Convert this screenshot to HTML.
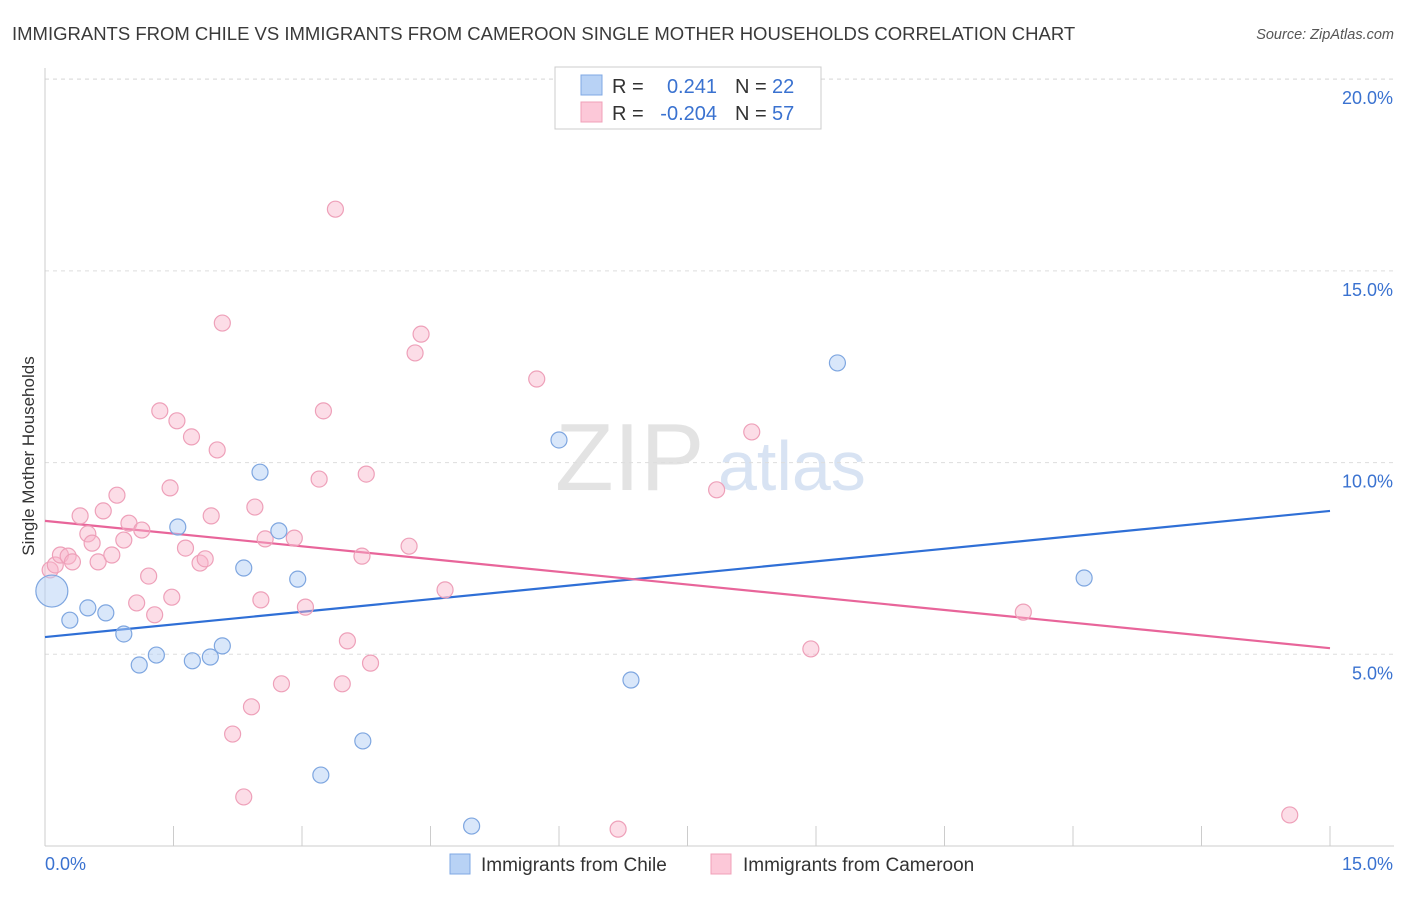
<!DOCTYPE html>
<html><head><meta charset="utf-8"><style>
body{margin:0;background:#fff;font-family:"Liberation Sans",sans-serif;}
svg text{font-family:"Liberation Sans",sans-serif;}
</style></head><body>
<svg id="chart" width="1406" height="892" xmlns="http://www.w3.org/2000/svg">
<text x="12" y="40" font-size="18.5" fill="#3a3a3a">IMMIGRANTS FROM CHILE VS IMMIGRANTS FROM CAMEROON SINGLE MOTHER HOUSEHOLDS CORRELATION CHART</text>
<text x="1394" y="39" font-size="14.5" fill="#555" text-anchor="end" font-style="italic">Source: ZipAtlas.com</text>
<text x="555" y="490" font-size="96" fill="#d8d8d8" font-family="Liberation Serif" opacity="0.7">ZIP</text>
<text x="718" y="490" font-size="70" fill="#c8d8ee" opacity="0.7">atlas</text>
<text transform="translate(34,456) rotate(-90)" font-size="17" fill="#333" text-anchor="middle">Single Mother Households</text>
<g id="grid"></g><g id="axes"></g><g id="lines"></g><g id="pts"></g>
<g>
<rect x="555" y="67" width="266" height="62" fill="#fff" stroke="#ccc"/>
<rect x="581" y="75" width="21" height="20" fill="#b8d2f5" stroke="#7fa8e4"/>
<rect x="581" y="102" width="21" height="20" fill="#fcc8d8" stroke="#f0a0b8"/>
<text x="612" y="93" font-size="20" fill="#333">R =</text>
<text x="717" y="93" font-size="20" fill="#3a72d0" text-anchor="end">0.241</text>
<text x="735" y="93" font-size="20" fill="#333">N =</text>
<text x="772" y="93" font-size="20" fill="#3a72d0">22</text>
<text x="612" y="120" font-size="20" fill="#333">R =</text>
<text x="717" y="120" font-size="20" fill="#3a72d0" text-anchor="end">-0.204</text>
<text x="735" y="120" font-size="20" fill="#333">N =</text>
<text x="772" y="120" font-size="20" fill="#3a72d0">57</text>
</g>
<g>
<rect x="450" y="854" width="20" height="20" fill="#b8d2f5" stroke="#7fa8e4"/>
<text x="481" y="871" font-size="19" fill="#333">Immigrants from Chile</text>
<rect x="711" y="854" width="20" height="20" fill="#fcc8d8" stroke="#f0a0b8"/>
<text x="743" y="871" font-size="19" fill="#333">Immigrants from Cameroon</text>
</g>
</svg>
<script>
const chileX=[0.08,0.29,0.50,0.71,0.92,1.10,1.30,1.55,1.72,1.93,2.07,2.32,2.51,2.73,2.95,3.22,3.71,4.98,6.00,6.84,9.25,12.13];
const chileY=[6.65,5.89,6.21,6.08,5.53,4.72,4.98,8.32,4.83,4.93,5.22,7.25,9.75,8.22,6.96,1.85,2.74,0.52,10.59,4.33,12.60,6.99];
const camX=[0.06,0.12,0.18,0.27,0.32,0.41,0.50,0.55,0.62,0.68,0.78,0.84,0.92,0.98,1.07,1.13,1.21,1.28,1.34,1.46,1.48,1.54,1.64,1.71,1.81,1.87,1.94,2.01,2.07,2.19,2.32,2.41,2.45,2.52,2.57,2.76,2.91,3.04,3.20,3.25,3.39,3.47,3.53,3.70,3.75,3.80,4.25,4.32,4.39,4.67,5.74,6.69,7.84,8.25,8.94,11.42,14.53];
const camY=[7.2,7.33,7.59,7.56,7.41,8.61,8.14,7.9,7.41,8.74,7.59,9.15,7.98,8.42,6.34,8.24,7.04,6.03,11.35,9.34,6.49,11.09,7.77,10.67,7.38,7.49,8.61,10.33,13.64,2.92,1.28,3.63,8.84,6.42,8.01,4.23,8.03,6.23,9.57,11.35,16.61,4.23,5.35,7.56,9.70,4.77,7.82,12.86,13.35,6.68,12.18,0.44,9.29,10.80,5.14,6.1,0.81];
const chileTrend=[5.45,8.74];
const camTrend=[8.48,5.16];
const yTicks=[5,10,15,20];
const yTickLabels=["5.0%","10.0%","15.0%","20.0%"];
const NS="http://www.w3.org/2000/svg";
const X=v=>45+v/15*1285, Y=v=>846-v*38.34;
function mk(tag,attrs,parent){const e=document.createElementNS(NS,tag);for(const k in attrs)e.setAttribute(k,attrs[k]);document.getElementById(parent).appendChild(e);return e;}
yTicks.forEach((t,i)=>{
 const l=mk('line',{x1:45,x2:1394,y1:Y(t),y2:Y(t),stroke:'#ddd','stroke-dasharray':'4,4'},'grid');
 
 
 const tx=mk('text',{x:1393,y:Y(t)+25,'font-size':18,fill:'#3a72d0','text-anchor':'end'},'axes');
 tx.textContent=yTickLabels[i];
 
 
});
const topLine=mk('line',{x1:45,x2:1394,y1:79,y2:79,stroke:'#ddd','stroke-dasharray':'4,4'},'grid');


const ya=mk('line',{x1:45,x2:45,y1:68,y2:846,stroke:'#ccc'},'axes');


const xa=mk('line',{x1:45,x2:1394,y1:846,y2:846,stroke:'#ccc'},'axes');


for(let i=1;i<=10;i++){const t=mk('line',{x1:X(i*1.5),x2:X(i*1.5),y1:826,y2:846,stroke:'#ccc'},'axes');
 
 }
const xl0=mk('text',{x:45,y:870,'font-size':18,fill:'#3a72d0'},'axes');xl0.textContent='0.0%';


const xl1=mk('text',{x:1393,y:870,'font-size':18,fill:'#3a72d0','text-anchor':'end'},'axes');xl1.textContent='15.0%';


camX.forEach((v,i)=>{const c=mk('circle',{cx:X(v),cy:Y(camY[i]),r:8,fill:'rgba(248,180,202,0.45)',stroke:'#eea0b9','stroke-width':1.2},'pts');
 
 });
chileX.forEach((v,i)=>{const c=mk('circle',{cx:X(v),cy:Y(chileY[i]),r:i==0?16:8,fill:'rgba(180,208,245,0.5)',stroke:'#7ea6e0','stroke-width':1.2},'pts');
 
 });
const bl=mk('line',{x1:X(0),x2:X(15),y1:Y(chileTrend[0]),y2:Y(chileTrend[1]),stroke:'#2f6fd6','stroke-width':2.2},'lines');


const pl=mk('line',{x1:X(0),x2:X(15),y1:Y(camTrend[0]),y2:Y(camTrend[1]),stroke:'#e8659a','stroke-width':2.2},'lines');


</script>
</body></html>
